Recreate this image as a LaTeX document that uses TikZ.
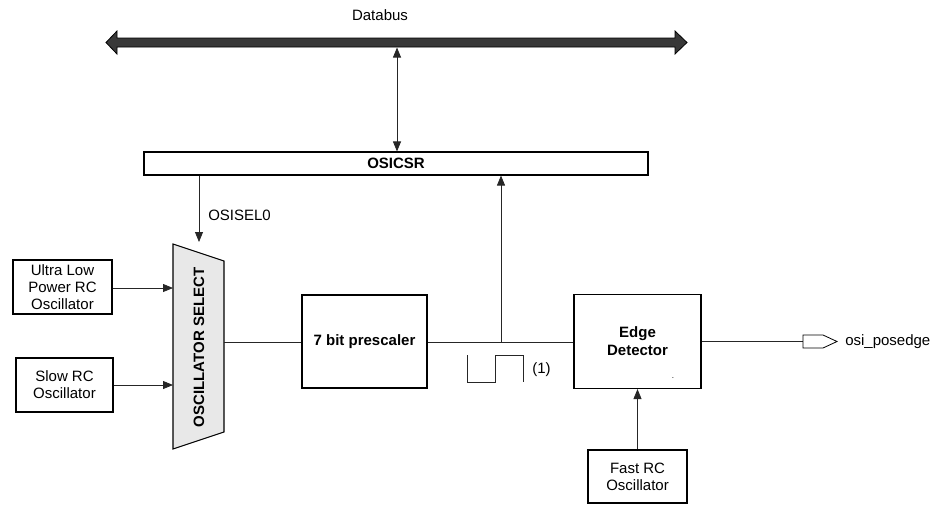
\documentclass[tikz,border=0pt]{standalone}
\usepackage{fontspec}
\setmainfont{Liberation Sans}
\usetikzlibrary{arrows.meta}
\begin{document}
\begin{tikzpicture}[x=0.75pt,y=-0.75pt,
  font=\fontsize{11.25}{12.8}\selectfont,
  box/.style={draw=black,line width=0.8pt,fill=white,inner sep=0pt,align=center},
  wire/.style={line width=0.6pt,draw=black!85},
  arr/.style={wire,-{Triangle[length=7.5pt,width=6pt]}},
  arrtwo/.style={wire,{Triangle[length=7.5pt,width=6pt]}-{Triangle[length=7.5pt,width=6pt]}},
  lbl/.style={inner sep=0pt}]
\useasboundingbox (0,0) rectangle (941,504);

% Databus
\node[lbl] (dblbl) at (380,15) {Databus};
\fill[black!78,draw=black,line width=0.6pt]
  (106,42.5) -- (117,31) -- (117,38) -- (675,38) -- (675,31) -- (687,42.5)
  -- (675,54) -- (675,47) -- (117,47) -- (117,54) -- cycle;
\coordinate (busbot) at (397,47.5);

% Register
\node[box,minimum width=378pt,minimum height=17.25pt,font=\fontsize{11.25}{12.8}\selectfont\bfseries] (osicsr) at (396,163.5) {OSICSR};

% Oscillators
\node[box,minimum width=74.25pt,minimum height=40.5pt] (ulp) at (62.5,287) {Ultra Low\\Power RC\\Oscillator};
\node[box,minimum width=72.75pt,minimum height=40.5pt] (slow) at (64.5,385) {Slow RC\\Oscillator};
\node[box,minimum width=74.25pt,minimum height=39.75pt] (fast) at (637.5,476.5) {Fast RC\\Oscillator};

% Multiplexer
\draw[line width=0.8pt,fill=black!9] (173,244) -- (224,261) -- (224,432) -- (173,449) -- cycle;
\coordinate (muxL) at (173,346);
\coordinate (muxR) at (224,342);
\node[lbl,rotate=90,font=\fontsize{11.25}{12.8}\selectfont\bfseries] (muxlbl) at (199,347.5) {OSCILLATOR SELECT};

% Prescaler and edge detector
\node[box,minimum width=93.75pt,minimum height=69.75pt,font=\fontsize{11.25}{12.8}\selectfont\bfseries] (presc) at (364.5,341.5) {7 bit prescaler};
\node[box,minimum width=95.25pt,minimum height=70.5pt,font=\fontsize{11.25}{13.4}\selectfont\bfseries] (edge) at (637.5,341.5) {Edge\\Detector};
\node[lbl,font=\fontsize{6}{6}\selectfont] (dot) at (673,378) {.};

% Connections
\draw[arrtwo] (busbot) -- (osicsr.north -| busbot);
\coordinate (selend) at (199,242);
\draw[arr] (osicsr.south -| selend) -- (selend);
\node[lbl,anchor=west] (osisel) at (208,215) {OSISEL0};
\draw[arr] (ulp.east |- 0,288) -- (muxL |- 0,288);
\draw[arr] (slow.east |- 0,385) -- (muxL |- 0,385);
\draw[wire] (muxR) -- (presc.west |- muxR);
\draw[wire] (presc.east |- muxR) -- (edge.west |- muxR);
\coordinate (jn) at (501,342);
\draw[arr] (jn) -- (osicsr.south -| jn);
\draw[arr] (fast.north) -- (edge.south);

% Clock waveform
\draw[wire] (467,355) -- (467,382) -- (495,382) -- (495,355) -- (523,355) -- (523,382);
\node[lbl] (note) at (541.5,370) {(1)};

% Output port
\coordinate (port) at (803,341.5);
\draw[wire] (edge.east |- port) -- (port);
\draw[line width=0.6pt] (803,335) -- (823,335) -- (837,341.5) -- (823,348) -- (803,348) -- cycle;
\node[lbl,anchor=west] (out) at (845,341.5) {osi\_posedge};
\end{tikzpicture}
\end{document}
